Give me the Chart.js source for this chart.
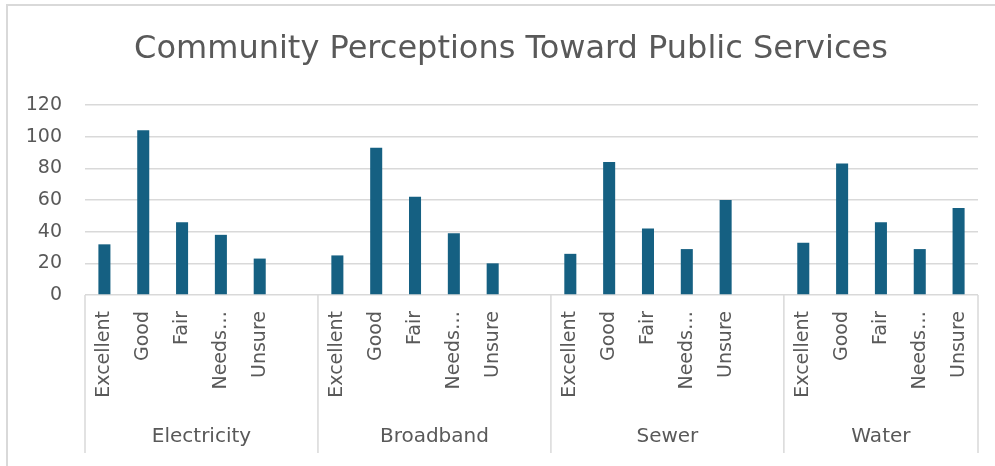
<!DOCTYPE html>
<html>
<head>
<meta charset="utf-8">
<script src="https://cdn.jsdelivr.net/npm/chart.js@4"></script>
<style>
    body { margin: 0; background: #fff; }
    #wrap { position: relative; width: 995px; height: 466px; overflow: hidden; }
    #frame {
        position: absolute; left: 6px; top: 4px; width: 1000px; height: 500px;
        border-top: 2px solid #d9d9d9; border-left: 2px solid #d9d9d9;
        pointer-events: none;
    }
    canvas { position: absolute; left: 0; top: 0; }
</style>
</head>
<body>
<div id="wrap">
    <canvas id="chart" width="995" height="466"></canvas>
    <div id="frame"></div>
</div>
<script>
// Datos
const groups = ['Electricity', 'Broadband', 'Sewer', 'Water'];
const ratings = ['Excellent', 'Good', 'Fair', 'Needs…', 'Unsure'];
const electricity = [32, 104, 46, 38, 23];
const broadband = [25, 93, 62, 39, 20];
const sewer = [26, 84, 42, 29, 60];
const water = [33, 83, 46, 29, 55];
const yTicks = [0, 20, 40, 60, 80, 100, 120];

const textColor = '#595959';
const gridColor = '#d9d9d9';
const fontFamily = "'DejaVu Sans', sans-serif";

// Construir etiquetas y valores (hueco vacio entre grupos, como en Excel)
const seriesByGroup = [electricity, broadband, sewer, water];
const labels = [];
const values = [];
const groupSpans = [];
seriesByGroup.forEach((serie, g) => {
    const start = labels.length;
    ratings.forEach((r, i) => {
        labels.push(r);
        values.push(serie[i]);
    });
    if (g < seriesByGroup.length - 1) {
        labels.push('');
        values.push(null);
    }
    groupSpans.push({ name: groups[g], start: start, end: labels.length - 1 });
});

// Dibuja los nombres de grupo y los separadores bajo el eje
const groupAxisPlugin = {
    id: 'groupAxis',
    afterLayout(chart) {
        // el titulo de Excel va centrado un poco mas a la derecha
        chart.titleBlock.left = 44;
    },
    afterDraw(chart) {
        const x = chart.scales.x;
        const ctx = chart.ctx;
        const half = (x.getPixelForValue(1) - x.getPixelForValue(0)) / 2;
        const top = chart.chartArea.bottom;
        const bottom = 453;
        ctx.save();
        ctx.strokeStyle = gridColor;
        ctx.lineWidth = 1.5;
        groupSpans.forEach((span, i) => {
            const left = x.getPixelForValue(span.start) - half;
            const right = x.getPixelForValue(span.end) + half;
            if (i === 0) {
                ctx.beginPath();
                ctx.moveTo(left, top);
                ctx.lineTo(left, bottom);
                ctx.stroke();
            }
            ctx.beginPath();
            ctx.moveTo(right, top);
            ctx.lineTo(right, bottom);
            ctx.stroke();
            ctx.fillStyle = textColor;
            ctx.font = '20px ' + fontFamily;
            ctx.textAlign = 'center';
            ctx.textBaseline = 'middle';
            ctx.fillText(span.name, (left + right) / 2, 437);
        });
        ctx.restore();
    }
};

new Chart(document.getElementById('chart'), {
    type: 'bar',
    data: {
        labels: labels,
        datasets: [{
            data: values,
            backgroundColor: '#156082',
            borderWidth: 0,
            barPercentage: 0.31,
            categoryPercentage: 1
        }]
    },
    options: {
        responsive: false,
        animation: false,
        layout: { padding: { left: 8, right: 17, top: 0, bottom: 0 } },
        plugins: {
            legend: { display: false },
            tooltip: { enabled: false },
            title: {
                display: true,
                text: 'Community Perceptions Toward Public Services',
                color: textColor,
                font: { family: fontFamily, size: 32, weight: 'normal', lineHeight: 1.2 },
                padding: { top: 30, bottom: 36.6 }
            }
        },
        scales: {
            x: {
                grid: { display: false },
                border: { display: false },
                ticks: {
                    color: textColor,
                    font: { family: fontFamily, size: 19 },
                    minRotation: 90,
                    maxRotation: 90,
                    autoSkip: false,
                    padding: 8
                },
                afterFit(s) {
                    s.height = 171;
                    s.paddingLeft = 0;
                    s.paddingRight = 0;
                }
            },
            y: {
                min: 0,
                max: 120,
                afterBuildTicks(s) {
                    s.ticks = yTicks.map(v => ({ value: v }));
                },
                grid: { color: gridColor, lineWidth: 1.5, drawTicks: false },
                border: { display: false },
                ticks: {
                    color: textColor,
                    font: { family: fontFamily, size: 19 },
                    padding: 23
                },
                afterFit(s) {
                    s.width = 77;
                    s.paddingTop = 0;
                    s.paddingBottom = 0;
                }
            }
        }
    },
    plugins: [groupAxisPlugin]
});
</script>
</body>
</html>
